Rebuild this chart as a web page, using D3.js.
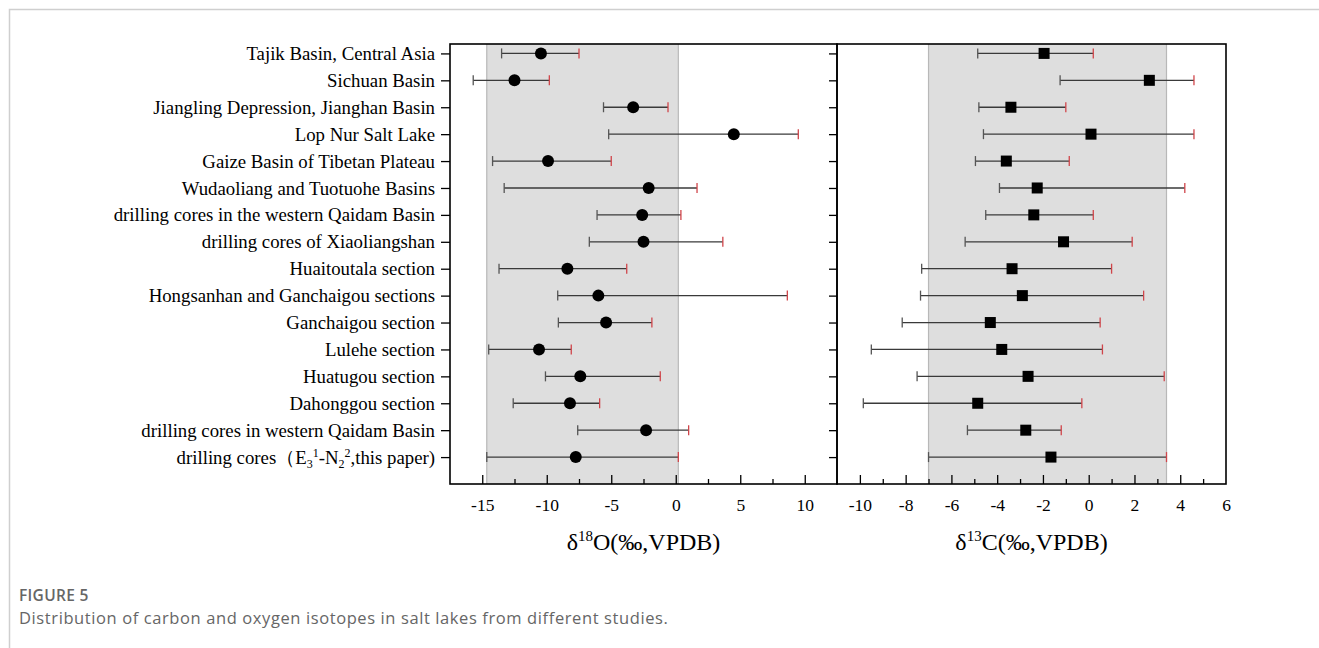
<!DOCTYPE html>
<html>
<head>
<meta charset="utf-8">
<script src="https://cdn.jsdelivr.net/npm/d3@7"></script>
<style>
  body { margin: 0; background: #fff; }
  svg { display: block; }
</style>
</head>
<body>
<svg id="chart"></svg>
<script>
// categories, top to bottom
var sites = [
  "Tajik Basin, Central Asia",
  "Sichuan Basin",
  "Jiangling Depression, Jianghan Basin",
  "Lop Nur Salt Lake",
  "Gaize Basin of Tibetan Plateau",
  "Wudaoliang and Tuotuohe Basins",
  "drilling cores in the western Qaidam Basin",
  "drilling cores of Xiaoliangshan",
  "Huaitoutala section",
  "Hongsanhan and Ganchaigou sections",
  "Ganchaigou section",
  "Lulehe section",
  "Huatugou section",
  "Dahonggou section",
  "drilling cores in western Qaidam Basin",
  "drilling cores (this paper)"
]

// d18O: min, mean, max
var o18Min  = [-13.5, -15.7, -5.6, -5.2, -14.2, -13.3, -6.1, -6.7, -13.7, -9.15, -9.1, -14.5, -10.1, -12.6, -7.6, -14.65]
var o18Mean = [-10.45, -12.5, -3.3, 4.5, -9.9, -2.1, -2.6, -2.5, -8.4, -6.0, -5.4, -10.6, -7.4, -8.2, -2.3, -7.75]
var o18Max  = [-7.5, -9.8, -0.6, 9.5, -5.0, 1.65, 0.4, 3.65, -3.8, 8.65, -1.85, -8.1, -1.2, -5.9, 1.0, 0.2]

// d13C: min, mean, max
var c13Min  = [-4.85, -1.25, -4.8, -4.6, -4.95, -3.9, -4.5, -5.4, -7.3, -7.35, -8.15, -9.5, -7.5, -9.85, -5.3, -7.0]
var c13Mean = [-1.95, 2.65, -3.4, 0.1, -3.6, -2.25, -2.4, -1.1, -3.35, -2.9, -4.3, -3.8, -2.65, -4.85, -2.75, -1.65]
var c13Max  = [0.2, 4.6, -1.0, 4.6, -0.85, 4.2, 0.2, 1.9, 1.0, 2.4, 0.5, 0.6, 3.3, -0.3, -1.2, 3.4]

var oMajor = [-15, -10, -5, 0, 5, 10]
var oMinor = [-12.5, -7.5, -2.5, 2.5, 7.5]
var cMajor = [-10, -8, -6, -4, -2, 0, 2, 4, 6]
var cMinor = [-9, -7, -5, -3, -1, 1, 3, 5]

var width = 1319
var height = 648
var top_ = 44, bottom_ = 484
var serif = "'Liberation Serif', 'Times New Roman', serif"

var svg = d3.select("#chart")
    .attr("width", width)
    .attr("height", height)

// card frame
svg.append("path")
    .attr("d", "M9.5," + height + "V9.5H" + width)
    .attr("fill", "none")
    .attr("stroke", "#cfcfcf")
    .attr("stroke-width", 1.5)

var y = d3.scaleLinear().domain([-0.35, 16]).range([top_, bottom_])

var xO = d3.scaleLinear().domain([-17.5, 12.5]).range([450, 837])
var xC = d3.scaleLinear().domain([-11, 6]).range([837, 1226])

function drawPanel(x, mins, means, maxs, major, minor, shape, sup, elem) {
    var g = svg.append("g")
    var n = mins.length
    // band = range of this paper
    var b0 = x(mins[n - 1]), b1 = x(maxs[n - 1])
    g.append("rect")
        .attr("x", b0).attr("y", top_)
        .attr("width", b1 - b0).attr("height", bottom_ - top_)
        .attr("fill", "#dedede")
    g.selectAll("line.bedge")
        .data([b0, b1])
        .enter().append("line")
        .attr("class", "bedge")
        .attr("x1", d => d).attr("x2", d => d)
        .attr("y1", top_).attr("y2", bottom_)
        .attr("stroke", "#b8b8b8")
        .attr("stroke-width", 1.2)

    var rows = d3.range(n)
    // error bars
    g.selectAll("line.bar")
        .data(rows)
        .enter().append("line")
        .attr("class", "bar")
        .attr("x1", i => x(mins[i])).attr("x2", i => x(maxs[i]))
        .attr("y1", i => y(i)).attr("y2", i => y(i))
        .attr("stroke", "#3a3a3a")
        .attr("stroke-width", 1.3)
    g.selectAll("line.capL")
        .data(rows)
        .enter().append("line")
        .attr("class", "capL")
        .attr("x1", i => x(mins[i])).attr("x2", i => x(mins[i]))
        .attr("y1", i => y(i) - 5).attr("y2", i => y(i) + 5)
        .attr("stroke", "#555")
        .attr("stroke-width", 1.3)
    g.selectAll("line.capR")
        .data(rows)
        .enter().append("line")
        .attr("class", "capR")
        .attr("x1", i => x(maxs[i])).attr("x2", i => x(maxs[i]))
        .attr("y1", i => y(i) - 5).attr("y2", i => y(i) + 5)
        .attr("stroke", "#d0454a")
        .attr("stroke-width", 1.3)

    if (shape == "circle") {
        g.selectAll("circle.pt")
            .data(rows)
            .enter().append("circle")
            .attr("class", "pt")
            .attr("cx", i => x(means[i])).attr("cy", i => y(i))
            .attr("r", 6)
            .attr("fill", "#000")
    } else {
        g.selectAll("rect.pt")
            .data(rows)
            .enter().append("rect")
            .attr("class", "pt")
            .attr("x", i => x(means[i]) - 5.5).attr("y", i => y(i) - 5.5)
            .attr("width", 11).attr("height", 11)
            .attr("fill", "#000")
    }

    // x axis: majors labelled, minors short, ticks pointing in
    var ax = g.append("g")
        .attr("transform", "translate(0," + bottom_ + ")")
        .call(d3.axisBottom(x).tickValues(major).tickSizeInner(-9).tickSizeOuter(0).tickPadding(15)
            .tickFormat(d3.format("d")))
    ax.select(".domain").remove()
    ax.selectAll("line").attr("stroke", "#000").attr("stroke-width", 1.3)
    ax.selectAll("text")
        .style("font-family", serif)
        .style("font-size", "17.5px")
        .attr("fill", "#000")
        .text(d => d < 0 ? "-" + Math.abs(d) : d)
    // hide tick line at the panel edge
    ax.selectAll(".tick").filter(d => x(d) >= x.range()[1] - 1).select("line").remove()

    var axm = g.append("g")
        .attr("transform", "translate(0," + bottom_ + ")")
        .call(d3.axisBottom(x).tickValues(minor).tickSizeInner(-5).tickSizeOuter(0).tickFormat(""))
    axm.select(".domain").remove()
    axm.selectAll("line").attr("stroke", "#000").attr("stroke-width", 1.3)

    // frame
    g.append("rect")
        .attr("x", x.range()[0]).attr("y", top_)
        .attr("width", x.range()[1] - x.range()[0]).attr("height", bottom_ - top_)
        .attr("fill", "none")
        .attr("stroke", "#000")
        .attr("stroke-width", 1.6)

    // axis title
    var t = g.append("text")
        .attr("x", (x.range()[0] + x.range()[1]) / 2)
        .attr("y", 550)
        .attr("text-anchor", "middle")
        .style("font-family", serif)
        .style("font-size", "24px")
        .attr("fill", "#000")
    t.append("tspan").text("δ")
    t.append("tspan").attr("dy", -9).style("font-size", "15px").text(sup)
    t.append("tspan").attr("dy", 9).text(elem + "(‰,VPDB)")
    return g
}

drawPanel(xO, o18Min, o18Mean, o18Max, oMajor, oMinor, "circle", "18", "O")
drawPanel(xC, c13Min, c13Mean, c13Max, cMajor, cMinor, "square", "13", "C")

// y axis with site names on the left panel
var yAx = svg.append("g")
    .attr("transform", "translate(450,0)")
    .call(d3.axisLeft(y).tickValues(d3.range(sites.length)).tickSizeInner(9).tickSizeOuter(0).tickPadding(6)
        .tickFormat(i => sites[i]))
yAx.select(".domain").remove()
yAx.selectAll("line").attr("stroke", "#000").attr("stroke-width", 1.3)
yAx.selectAll("text")
    .style("font-family", serif)
    .style("font-size", "18.8px")
    .attr("fill", "#000")

// last label with sub/superscripts
var last = yAx.selectAll(".tick").filter(i => i == sites.length - 1).select("text")
last.text(null)
last.append("tspan").text("drilling cores（E")
last.append("tspan").attr("dy", 4).style("font-size", "12px").text("3")
last.append("tspan").attr("dy", -11).style("font-size", "12px").text("1")
last.append("tspan").attr("dy", 7).text("-N")
last.append("tspan").attr("dy", 4).style("font-size", "12px").text("2")
last.append("tspan").attr("dy", -11).style("font-size", "12px").text("2")
last.append("tspan").attr("dy", 7).text(",this paper)")

// ticks on left edge of right panel (pointing left)
var yAx2 = svg.append("g")
    .attr("transform", "translate(837,0)")
    .call(d3.axisLeft(y).tickValues(d3.range(sites.length)).tickSizeInner(8).tickSizeOuter(0).tickFormat(""))
yAx2.select(".domain").remove()
yAx2.selectAll("line").attr("stroke", "#000").attr("stroke-width", 1.3)

// caption
svg.append("text")
    .attr("x", 19).attr("y", 601)
    .style("font-family", "'Open Sans', sans-serif")
    .style("font-size", "15.5px")
    .style("font-weight", "600")
    .style("letter-spacing", "0.3px")
    .attr("fill", "#666")
    .text("FIGURE 5")
svg.append("text")
    .attr("x", 19).attr("y", 624)
    .style("font-family", "'Open Sans', sans-serif")
    .style("font-size", "16.5px")
    .style("letter-spacing", "0.6px")
    .attr("fill", "#666")
    .text("Distribution of carbon and oxygen isotopes in salt lakes from different studies.")
</script>
</body>
</html>
